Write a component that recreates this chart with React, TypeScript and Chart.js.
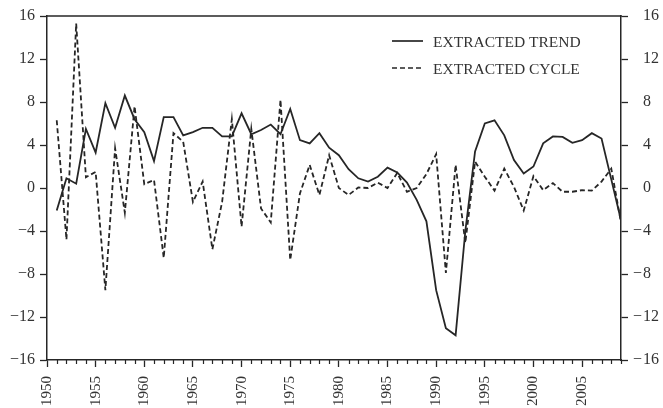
import React, { useEffect, useRef } from 'react';
import { Chart, registerables } from 'chart.js';

Chart.register(...registerables);

const years: number[] = [
  1951, 1952, 1953, 1954, 1955, 1956, 1957, 1958, 1959, 1960,
  1961, 1962, 1963, 1964, 1965, 1966, 1967, 1968, 1969, 1970,
  1971, 1972, 1973, 1974, 1975, 1976, 1977, 1978, 1979, 1980,
  1981, 1982, 1983, 1984, 1985, 1986, 1987, 1988, 1989, 1990,
  1991, 1992, 1993, 1994, 1995, 1996, 1997, 1998, 1999, 2000,
  2001, 2002, 2003, 2004, 2005, 2006, 2007, 2008, 2009,
];

const trend: number[] = [
  -2.1, 0.9, 0.4, 5.5, 3.3, 7.9, 5.6, 8.6, 6.4, 5.2,
  2.5, 6.6, 6.6, 4.9, 5.2, 5.6, 5.6, 4.8, 4.8, 6.95,
  5.0, 5.4, 5.9, 5.0, 7.35, 4.45, 4.15, 5.1, 3.75, 3.05,
  1.75, 0.9, 0.6, 1.05, 1.9, 1.45, 0.5, -1.1, -3.1, -9.5,
  -13.05, -13.7, -4.0, 3.4, 6.0, 6.3, 4.9, 2.6, 1.35, 2.0,
  4.15, 4.8, 4.75, 4.2, 4.45, 5.1, 4.6, 0.8, -3.0,
];

const cycle: number[] = [
  6.3, -4.8, 15.3, 1.0, 1.5, -9.5, 3.7, -2.3, 7.6, 0.35,
  0.75, -6.5, 5.1, 4.3, -1.3, 0.6, -5.7, -1.3, 6.4, -3.6,
  5.5, -1.9, -3.2, 8.2, -6.7, -0.5, 2.15, -0.65, 3.05, 0.0,
  -0.65, 0.05, 0.0, 0.5, 0.0, 1.4, -0.35, 0.0, 1.3, 3.15,
  -7.9, 2.15, -5.1, 2.45, 1.05, -0.25, 1.8, 0.1, -2.1, 1.1,
  -0.2, 0.45, -0.35, -0.35, -0.2, -0.25, 0.6, 1.8, -3.2,
];

const yTickValues: number[] = [-16, -12, -8, -4, 0, 4, 8, 12, 16];
const xLabelYears: number[] = [1950, 1955, 1960, 1965, 1970, 1975, 1980, 1985, 1990, 1995, 2000, 2005];
const xMinorYears: number[] = [];
for (let y = 1950; y <= 2009; y++) if (y % 5 !== 0) xMinorYears.push(y);
const seriesNames: string[] = ['EXTRACTED TREND', 'EXTRACTED CYCLE'];

const INK = '#262626';
const FONT = '"Liberation Serif", "DejaVu Serif", serif';
const DASH = [5, 3];

const fmt = (v: number) => (v < 0 ? '\u2212' + Math.abs(v) : String(v));

const decor = {
  id: 'decor',
  afterDraw(chart: any) {
    const { ctx, chartArea, scales } = chart;
    const { left, right, top, bottom } = chartArea;
    ctx.save();
    // top border
    ctx.strokeStyle = INK;
    ctx.lineWidth = 1.5;
    ctx.beginPath();
    ctx.moveTo(left - 0.75, top);
    ctx.lineTo(right + 0.75, top);
    ctx.stroke();
    // minor x ticks
    ctx.lineWidth = 1.2;
    ctx.beginPath();
    for (const yr of xMinorYears) {
      const px = Math.round(scales.x.getPixelForValue(yr)) + 0.5;
      ctx.moveTo(px, bottom);
      ctx.lineTo(px, bottom + 4);
    }
    ctx.stroke();
    // right axis labels (minus sign hangs left of digits)
    const yr = scales.yRight;
    ctx.font = '16px ' + FONT;
    ctx.fillStyle = '#333';
    ctx.textBaseline = 'middle';
    for (const v of yTickValues) {
      const py = yr.getPixelForValue(v);
      ctx.textAlign = 'left';
      ctx.fillText(String(Math.abs(v)), right + 22, py);
      if (v < 0) {
        ctx.textAlign = 'right';
        ctx.fillText('\u2212', right + 21, py);
      }
    }
    // legend
    const lx0 = right - 229;
    const lx1 = right - 198;
    const tx = right - 188;
    const rows = [top + 25, top + 52];
    ctx.font = '15.5px ' + FONT;
    ctx.textAlign = 'left';
    ctx.fillStyle = '#333';
    rows.forEach((ry, i) => {
      ctx.strokeStyle = INK;
      ctx.lineWidth = 1.7;
      ctx.setLineDash(i === 1 ? DASH : []);
      ctx.beginPath();
      ctx.moveTo(lx0, ry);
      ctx.lineTo(lx1, ry);
      ctx.stroke();
      ctx.setLineDash([]);
      ctx.fillText(seriesNames[i], tx, ry + 1.5);
    });
    ctx.restore();
  },
};

export default function App() {
  const ref = useRef<HTMLCanvasElement | null>(null);
  useEffect(() => {
    if (!ref.current) return;
    const gridCommon = {
      drawOnChartArea: false,
      drawTicks: true,
      tickLength: 7,
      tickColor: INK,
      tickWidth: 1.3,
    };
    const chart = new Chart(ref.current, {
      type: 'line',
      data: {
        datasets: [
          {
            label: seriesNames[0],
            data: years.map((x, i) => ({ x, y: trend[i] })),
            borderColor: INK,
            borderWidth: 1.8,
            pointRadius: 0,
            tension: 0,
            fill: false,
          },
          {
            label: seriesNames[1],
            data: years.map((x, i) => ({ x, y: cycle[i] })),
            borderColor: INK,
            borderWidth: 1.8,
            borderDash: DASH,
            pointRadius: 0,
            tension: 0,
            fill: false,
          },
        ],
      },
      options: {
        animation: false,
        responsive: false,
        devicePixelRatio: 1,
        layout: { padding: { top: 16, left: 0, right: 0, bottom: 0 } },
        plugins: { legend: { display: false }, tooltip: { enabled: false } },
        scales: {
          x: {
            type: 'linear',
            position: 'bottom',
            min: 1950,
            max: 2009,
            afterBuildTicks: (s: any) => {
              s.ticks = xLabelYears.map((v) => ({ value: v }));
            },
            afterFit: (s: any) => {
              s.height = 48;
            },
            ticks: {
              autoSkip: false,
              minRotation: 90,
              maxRotation: 90,
              padding: 9,
              color: '#333',
              font: { family: FONT, size: 15 },
              callback: (v: any) => String(v),
            },
            grid: gridCommon,
            border: { display: true, color: INK, width: 1.5 },
          },
          y: {
            type: 'linear',
            position: 'left',
            min: -16,
            max: 16,
            afterBuildTicks: (s: any) => {
              s.ticks = yTickValues.map((v) => ({ value: v }));
            },
            afterFit: (s: any) => {
              s.width = 47;
            },
            ticks: {
              padding: 5,
              color: '#333',
              font: { family: FONT, size: 16 },
              callback: (v: any) => fmt(Number(v)),
            },
            grid: gridCommon,
            border: { display: true, color: INK, width: 1.5 },
          },
          yRight: {
            type: 'linear',
            position: 'right',
            min: -16,
            max: 16,
            afterBuildTicks: (s: any) => {
              s.ticks = yTickValues.map((v) => ({ value: v }));
            },
            afterFit: (s: any) => {
              s.width = 42;
            },
            ticks: {
              color: 'rgba(0,0,0,0)',
              font: { family: FONT, size: 16 },
              callback: (v: any) => fmt(Number(v)),
            },
            grid: gridCommon,
            border: { display: true, color: INK, width: 1.5 },
          },
        },
      },
      plugins: [decor],
    } as any);
    return () => chart.destroy();
  }, []);
  return (
    <div style={{ position: 'fixed', left: 0, top: 0, width: 663, height: 408, background: '#fff' }}>
      <canvas ref={ref} width={663} height={408} style={{ display: 'block' }} />
    </div>
  );
}
